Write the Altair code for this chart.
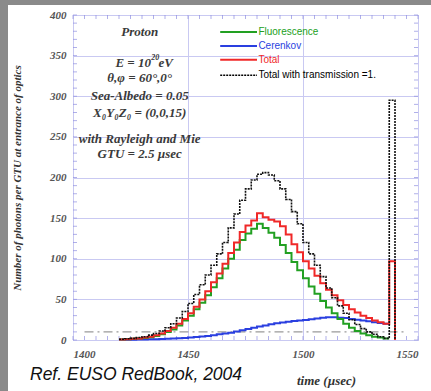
import altair as alt
import pandas as pd

# ---- data ----
t_edges = [1420 + 2.5 * i for i in range(47)]  # bin left edges, GTU = 2.5 usec

black_vals = [1, 1.5, 2, 3, 4, 6, 8, 11, 15, 20, 27, 35, 45, 56, 68, 80, 92, 106, 120, 138,
              155, 172, 186, 197, 204, 206, 203, 196, 186, 173, 158, 143, 120, 106, 92, 78,
              64, 52, 42, 33, 25, 19, 14, 10, 7, 4, 2]
red_vals = [0.5, 1, 1.5, 2, 3, 4, 6, 8, 11, 15, 20, 26, 33, 41, 50, 60, 71, 82, 94, 107,
            120, 133, 141, 147, 156, 151, 148, 146, 140, 130, 118, 108, 97, 88, 79, 70,
            62, 55, 49, 43, 38, 34, 30, 27, 24, 22, 20]
green_vals = [0.5, 1, 1.5, 2, 2.5, 3.5, 5, 7, 10, 13, 18, 24, 30, 38, 46, 55, 65, 76, 88, 100,
              111, 123, 131, 137, 143, 138, 132, 126, 117, 107, 96, 86, 76, 66, 57, 48,
              40, 33, 26, 20, 15, 11, 8, 6, 4, 3, 2]
blue_vals = [0.2, 0.3, 0.4, 0.5, 0.6, 0.8, 1, 1.2, 1.5, 1.8, 2.2, 2.6, 3, 3.6, 4.3, 5, 6, 7, 8, 9,
             10.5, 12, 13.5, 15, 16.5, 18, 19.5, 20.5, 21.5, 22.5, 23.5, 24, 24.5, 25.5, 26.5, 27.5,
             28, 28, 27.5, 27, 26, 25, 24, 23, 22, 21, 20]

spike_t = [1537.5, 1540]
black_spike = [295, 0]
red_spike = [97, 0]

dashdot_t = [1405, 1545]
dashdot_v = [10, 10]

annot_lines = ["Proton", "θ,φ = 60°,0°", "Sea-Albedo = 0.05",
               "X₀Y₀Z₀ = (0,0,15)", "with Rayleigh and Mie", "GTU = 2.5 µsec"]
annot_y = [379, 322, 300, 279, 247, 229]
annot_x = 1429

# "E = 10^20 eV" pieces
energy_parts = ["E = 10", "20", "eV"]
energy_t = [1433.9, 1434.0, 1437.2]
energy_v = 341

legend_names = ["Fluorescence", "Cerenkov", "Total", "Total with transmission =1."]
legend_colors = ["#22a022", "#2a3fe0", "#f02828", "#000000"]
legend_y = [379, 362, 345, 326]
legend_x0, legend_x1, legend_tx = 1464, 1480, 1480.6

y_minor = list(range(0, 401, 10))
x_minor = list(range(1400, 1551, 5))

ref_text = ["Ref. EUSO RedBook, 2004"]

# ---- build tables ----
def series(name, vals, extra_t=None, extra_v=None):
    t = list(t_edges)
    v = list(vals)
    if extra_t:
        t += extra_t
        v += extra_v
    return pd.DataFrame({"t": t, "v": v, "s": name})

df_green = series("Fluorescence", green_vals, [1537.5], [green_vals[-1]])
df_blue = series("Cerenkov", blue_vals, [1537.5], [blue_vals[-1]])
df_red = series("Total", red_vals, spike_t, red_spike)
df_black = series("Total with transmission =1.", black_vals, spike_t, black_spike)

xs = alt.Scale(domain=[1400, 1550], nice=False)
ys = alt.Scale(domain=[0, 400], nice=False)

serif = "Liberation Serif"

X = alt.X("t:Q", scale=xs, axis=alt.Axis(
    values=[1400, 1450, 1500, 1550], format="d", title="time (µsec)", grid=True,
    gridColor="#c9c9f2", domain=False, ticks=False,
    labelFont=serif, labelFontStyle="italic", labelFontWeight="bold", labelFontSize=11,
    labelColor="#555555", labelPadding=8,
    titleFont=serif, titleFontStyle="italic", titleFontWeight="bold", titleFontSize=13,
    titleColor="#333333", titleX=253, titleY=40, titleBaseline="middle"))
Y = alt.Y("v:Q", scale=ys, axis=alt.Axis(
    values=list(range(0, 401, 50)), format="d",
    title="Number of photons per GTU at entrance of optics",
    grid=True, gridColor="#c9c9f2", domain=False, ticks=False,
    labelFont=serif, labelFontStyle="italic", labelFontWeight="bold", labelFontSize=11,
    labelColor="#555555", labelPadding=7,
    titleFont=serif, titleFontStyle="italic", titleFontWeight="bold", titleFontSize=11,
    titleColor="#333333", titleX=-56, titleBaseline="middle"))

def step(df, color, width=2, dash=None):
    kw = dict(interpolate="step-after", color=color, strokeWidth=width)
    if dash:
        kw["strokeDash"] = dash
    return alt.Chart(df).mark_line(**kw).encode(x=X, y=Y, order="t:Q")

frame_df = pd.DataFrame({"a": [0]})
left_strip = alt.Chart(frame_df).mark_rect(color="#8a8a8a").encode(
    x=alt.value(-73), x2=alt.value(-65), y=alt.value(-15), y2=alt.value(376))
top_strip = alt.Chart(frame_df).mark_rect(color="#8a8a8a").encode(
    x=alt.value(-73), x2=alt.value(358), y=alt.value(-15), y2=alt.value(-10))

dd = alt.Chart(pd.DataFrame({"t": dashdot_t, "v": dashdot_v})).mark_line(
    color="#9a9a9a", strokeWidth=1.2, strokeDash=[9, 4, 2, 4]).encode(x=X, y=Y)

ytick_df = pd.DataFrame({"v": y_minor})
ytl = alt.Chart(ytick_df).mark_tick(orient="horizontal", size=4, thickness=1,
                                    color="#8f8fe0", xOffset=2).encode(
    x=alt.datum(1400, scale=xs), y=alt.Y("v:Q", scale=ys))
ytr = alt.Chart(ytick_df).mark_tick(orient="horizontal", size=4, thickness=1,
                                    color="#8f8fe0", xOffset=-2).encode(
    x=alt.datum(1550, scale=xs), y=alt.Y("v:Q", scale=ys))
xtick_df = pd.DataFrame({"t": x_minor})
xtb = alt.Chart(xtick_df).mark_tick(orient="vertical", size=4, thickness=1,
                                    color="#8f8fe0", yOffset=-2).encode(
    x=alt.X("t:Q", scale=xs), y=alt.datum(0, scale=ys))
xtt = alt.Chart(xtick_df).mark_tick(orient="vertical", size=4, thickness=1,
                                    color="#8f8fe0", yOffset=2).encode(
    x=alt.X("t:Q", scale=xs), y=alt.datum(400, scale=ys))

txt_style = dict(font=serif, fontStyle="italic", fontWeight="bold", color="#3a3a3a",
                 baseline="middle")
annot = alt.Chart(pd.DataFrame({"txt": annot_lines, "v": annot_y, "t": annot_x})).mark_text(
    fontSize=13, align="center", **txt_style).encode(
    x=alt.X("t:Q", scale=xs), y=alt.Y("v:Q", scale=ys), text="txt:N")

e_df = pd.DataFrame({"txt": energy_parts, "t": energy_t, "v": energy_v})
e_main = alt.Chart(e_df.iloc[[0]]).mark_text(fontSize=13, align="right", **txt_style).encode(
    x=alt.X("t:Q", scale=xs), y=alt.Y("v:Q", scale=ys), text="txt:N")
e_sup = alt.Chart(e_df.iloc[[1]]).mark_text(fontSize=8, align="left", dy=-5, **txt_style).encode(
    x=alt.X("t:Q", scale=xs), y=alt.Y("v:Q", scale=ys), text="txt:N")
e_unit = alt.Chart(e_df.iloc[[2]]).mark_text(fontSize=13, align="left", **txt_style).encode(
    x=alt.X("t:Q", scale=xs), y=alt.Y("v:Q", scale=ys), text="txt:N")

leg_df = pd.DataFrame({"name": legend_names, "col": legend_colors, "v": legend_y,
                       "x0": legend_x0, "x1": legend_x1, "tx": legend_tx})
leg_solid = alt.Chart(leg_df.iloc[:3]).mark_rule(strokeWidth=2).encode(
    x=alt.X("x0:Q", scale=xs), x2="x1:Q", y=alt.Y("v:Q", scale=ys),
    color=alt.Color("col:N", scale=None))
leg_dot = alt.Chart(leg_df.iloc[3:]).mark_rule(strokeWidth=1.5, strokeDash=[2, 1]).encode(
    x=alt.X("x0:Q", scale=xs), x2="x1:Q", y=alt.Y("v:Q", scale=ys),
    color=alt.Color("col:N", scale=None))
leg_txt = alt.Chart(leg_df).mark_text(font="Liberation Sans", fontSize=10, align="left",
                                      baseline="middle").encode(
    x=alt.X("tx:Q", scale=xs), y=alt.Y("v:Q", scale=ys), text="name:N",
    color=alt.Color("col:N", scale=None))

ref = alt.Chart(pd.DataFrame({"txt": ref_text})).mark_text(
    font="Liberation Sans", fontStyle="italic", fontSize=17.5, color="#111111",
    align="left", baseline="middle").encode(x=alt.value(-43), y=alt.value(360), text="txt:N")

chart = alt.layer(
    left_strip, top_strip, dd, ytl, ytr, xtb, xtt,
    step(df_blue, "#2a3fe0"),
    step(df_green, "#22a022"),
    step(df_red, "#f02828"),
    step(df_black, "#111111", 1.6, [2, 1]),
    annot, e_main, e_sup, e_unit, leg_solid, leg_dot, leg_txt, ref,
).properties(
    width=345, height=325,
    autosize=alt.AutoSizeParams(type="none"),
    padding={"left": 73, "top": 15, "right": 13, "bottom": 51},
    background="white",
).configure_view(stroke="#9a9ae6", strokeWidth=1)

chart.save("out.html", embed_options={"renderer": "svg", "actions": False})
